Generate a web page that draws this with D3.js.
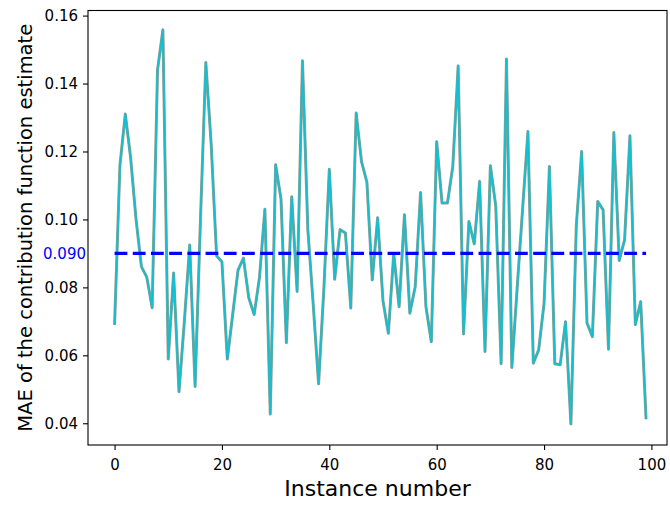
<!DOCTYPE html>
<html>
<head>
<meta charset="utf-8">
<script src="https://cdn.jsdelivr.net/npm/d3@7"></script>
<style>
  body { margin: 0; background: #fff; }
  text { font-family: 'DejaVu Sans', sans-serif; }
</style>
</head>
<body>
<script>
// MAE per instance (the ten runs overlap almost exactly, the last one is drawn on top)
const mae = [
  0.069, 0.116, 0.131, 0.118, 0.100, 0.0861, 0.083, 0.074, 0.144, 0.1558,
  0.0589, 0.0842, 0.0493, 0.070, 0.0925, 0.0508, 0.100, 0.1462, 0.122, 0.0893,
  0.0875, 0.0589, 0.072, 0.0851, 0.0886, 0.0769, 0.072, 0.083, 0.103, 0.0427,
  0.1161, 0.106, 0.0637, 0.1067, 0.0788, 0.1467, 0.097, 0.075, 0.0516, 0.080,
  0.1148, 0.0824, 0.097, 0.096, 0.0739, 0.1313, 0.117, 0.111, 0.0822, 0.1005,
  0.076, 0.0665, 0.090, 0.0743, 0.1014, 0.0724, 0.0802, 0.1079, 0.0743, 0.064,
  0.1229, 0.1048, 0.1048, 0.1156, 0.1452, 0.0663, 0.0994, 0.0928, 0.1112, 0.0611,
  0.1158, 0.104, 0.0575, 0.1472, 0.0564, 0.080, 0.103, 0.1259, 0.0577, 0.0616,
  0.0753, 0.1156, 0.0575, 0.0572, 0.0699, 0.0398, 0.098, 0.120, 0.0695, 0.0655,
  0.1053, 0.1028, 0.0618, 0.1256, 0.0879, 0.094, 0.1246, 0.069, 0.0758, 0.0412
];
const meanMae = 0.090;
const xTicks = [0, 20, 40, 60, 80, 100];
const yTicks = [0.04, 0.06, 0.08, 0.10, 0.12, 0.14, 0.16];

const width = 670, height = 505;
const plotLeft = 88, plotRight = 667, plotTop = 10.5, plotBottom = 445;

const svg = d3.select('body')
  .append('svg')
  .attr('width', width)
  .attr('height', height);

const x = d3.scaleLinear()
  .domain([-4.95, 102.9])
  .range([plotLeft, plotRight]);

const y = d3.scaleLinear()
  .domain([0.0336, 0.1615])
  .range([plotBottom, plotTop]);

const line = d3.line()
  .x((d, i) => x(i))
  .y(d => y(d));

// underlay gives the mixed edge colour of the hidden runs
svg.append('path')
  .datum(mae)
  .attr('d', line)
  .attr('fill', 'none')
  .attr('stroke', '#a39c88')
  .attr('stroke-width', 3)
  .attr('stroke-linejoin', 'round');

svg.append('path')
  .datum(mae)
  .attr('d', line)
  .attr('fill', 'none')
  .attr('stroke', '#17becf')
  .attr('stroke-width', 2)
  .attr('stroke-linejoin', 'round');

svg.append('line')
  .attr('x1', x(0))
  .attr('x2', x(mae.length - 1))
  .attr('y1', y(meanMae))
  .attr('y2', y(meanMae))
  .attr('stroke', '#0000ff')
  .attr('stroke-width', 3.4)
  .attr('stroke-dasharray', '12.8,5.4');

const xAxis = d3.axisBottom(x).tickValues(xTicks).tickSize(5).tickPadding(5);
const yAxis = d3.axisLeft(y).tickValues(yTicks).tickFormat(d3.format('.2f')).tickSize(5).tickPadding(5);

const gx = svg.append('g')
  .attr('transform', `translate(0, ${plotBottom})`)
  .call(xAxis);

const gy = svg.append('g')
  .attr('transform', `translate(${plotLeft}, 0)`)
  .call(yAxis);

[gx, gy].forEach(g => {
  g.select('.domain').remove();
  g.selectAll('line').attr('stroke', '#000').attr('stroke-width', 1.1);
  g.selectAll('text').attr('font-size', 15).attr('fill', '#000')
    .attr('font-family', "'DejaVu Sans', sans-serif");
});
gx.selectAll('text').attr('y', 14).attr('dy', '0.71em');

svg.append('rect')
  .attr('x', plotLeft)
  .attr('y', plotTop)
  .attr('width', plotRight - plotLeft)
  .attr('height', plotBottom - plotTop)
  .attr('fill', 'none')
  .attr('stroke', '#000')
  .attr('stroke-width', 1.1);

svg.append('text')
  .attr('x', plotLeft - 2)
  .attr('y', y(meanMae))
  .attr('dy', '0.35em')
  .attr('text-anchor', 'end')
  .attr('font-size', 15)
  .attr('fill', '#0000ff')
  .text(d3.format('.3f')(meanMae));

svg.append('text')
  .attr('x', (plotLeft + plotRight) / 2)
  .attr('y', 496)
  .attr('text-anchor', 'middle')
  .attr('font-size', 22)
  .text('Instance number');

svg.append('text')
  .attr('transform', `translate(32, ${(plotTop + plotBottom) / 2}) rotate(-90)`)
  .attr('text-anchor', 'middle')
  .attr('font-size', 19.5)
  .text('MAE of the contribution function estimate');
</script>
</body>
</html>
